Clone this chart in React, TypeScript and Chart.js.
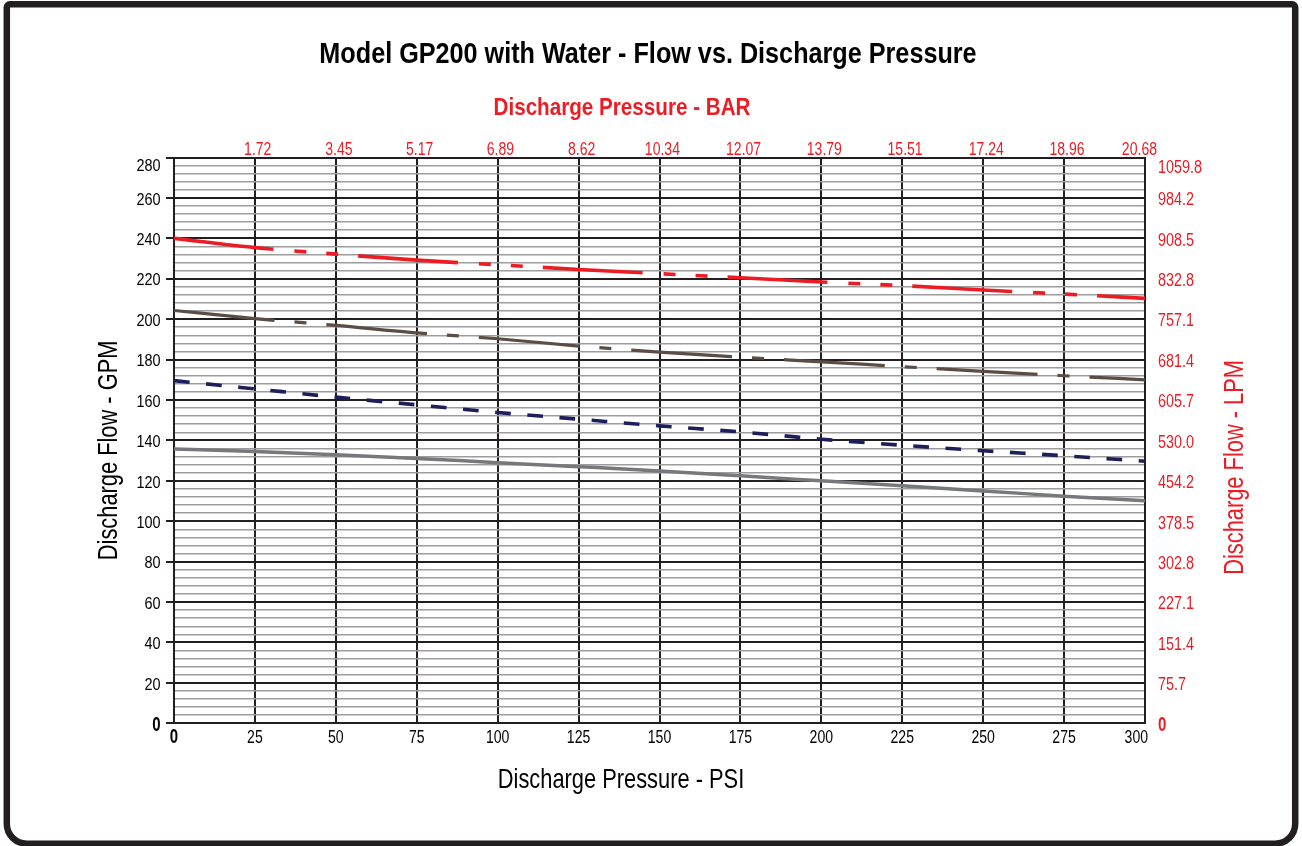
import React, { useEffect, useRef } from "react";
import { Chart, registerables } from "chart.js";

Chart.register(...registerables);

// ---------- data ----------
const PSI = [0, 25, 50, 75, 100, 125, 150, 175, 200, 225, 250, 275, 300];
const RED_GPM = [240, 235.4, 232.2, 229.2, 226.9, 224.6, 222.5, 220.5, 218.4, 216.6, 214.4, 212.4, 210.3];
const BROWN_GPM = [204.3, 200.3, 196.9, 193.2, 190.3, 186.7, 183.7, 181.2, 178.9, 176.5, 174.2, 172, 170];
const NAVY_GPM = [169.6, 165.5, 161.4, 157.6, 153.8, 150.5, 147.2, 144.2, 140.6, 137.6, 134.9, 132.4, 129.7];
const GREY_GPM = [135.8, 134.5, 132.9, 131.1, 129, 127, 124.9, 122.5, 120, 117.5, 115, 112.4, 110.1];

const PSI_TICKS = ["0", "25", "50", "75", "100", "125", "150", "175", "200", "225", "250", "275", "300"];
const GPM_TICKS = ["0", "20", "40", "60", "80", "100", "120", "140", "160", "180", "200", "220", "240", "260", "280"];
const BAR_TICKS = ["1.72", "3.45", "5.17", "6.89", "8.62", "10.34", "12.07", "13.79", "15.51", "17.24", "18.96", "20.68"];
const LPM_TICKS = ["0", "75.7", "151.4", "227.1", "302.8", "378.5", "454.2", "530.0", "605.7", "681.4", "757.1", "832.8", "908.5", "984.2", "1059.8"];

const TITLE = "Model GP200 with Water - Flow vs. Discharge Pressure";
const TOP_TITLE = "Discharge Pressure - BAR";
const BOTTOM_TITLE = "Discharge Pressure - PSI";
const LEFT_TITLE = "Discharge Flow - GPM";
const RIGHT_TITLE = "Discharge Flow - LPM";

const PSI_MAX = 300;
const GPM_MAX = 280;
const BAR_PER_PSI = 1 / 14.5038;
const LPM_PER_GPM = 3.78541;

// ---------- styles ----------
const FONT = '"Liberation Sans", Arial, Helvetica, sans-serif';
const RED = "#ed1c24";
const INK = "#231f20";

type TextOpts = {
  size: number;
  bold?: boolean;
  color?: string;
  align?: CanvasTextAlign;
  baseline?: CanvasTextBaseline;
  sx?: number;
  rotate?: number;
};

function drawText(ctx: CanvasRenderingContext2D, text: string, x: number, y: number, o: TextOpts) {
  ctx.save();
  ctx.translate(x, y);
  if (o.rotate) ctx.rotate(o.rotate);
  ctx.scale(o.sx ?? 0.8, 1);
  ctx.font = `${o.bold ? "bold " : ""}${o.size}px ${FONT}`;
  ctx.fillStyle = o.color ?? "#000";
  ctx.textAlign = o.align ?? "center";
  ctx.textBaseline = o.baseline ?? "alphabetic";
  ctx.fillText(text, 0, 0);
  ctx.restore();
}

function textWidth(ctx: CanvasRenderingContext2D, text: string, size: number, bold: boolean, sx: number) {
  ctx.save();
  ctx.font = `${bold ? "bold " : ""}${size}px ${FONT}`;
  const w = ctx.measureText(text).width * sx;
  ctx.restore();
  return w;
}

const decorPlugin = {
  id: "decor",
  beforeDraw(chart: any) {
    const ctx: CanvasRenderingContext2D = chart.ctx;
    ctx.save();
    ctx.fillStyle = "#fff";
    ctx.fillRect(0, 0, chart.width, chart.height);
    ctx.restore();
  },
  afterDraw(chart: any) {
    const ctx: CanvasRenderingContext2D = chart.ctx;
    const { x, y, x2, y2 } = chart.scales;
    const area = chart.chartArea;

    // frame
    ctx.save();
    ctx.strokeStyle = INK;
    ctx.lineWidth = 6.5;
    ctx.beginPath();
    (ctx as any).roundRect(6.8, 4.3, chart.width - 13.6, chart.height - 6.6, [3, 3, 20, 20]);
    ctx.stroke();
    ctx.restore();

    // titles
    drawText(ctx, TITLE, 648, 63, { size: 30, bold: true, sx: 0.84 });
    drawText(ctx, TOP_TITLE, 622, 115, { size: 24, bold: true, sx: 0.86, color: RED });
    drawText(ctx, BOTTOM_TITLE, 621, 788, { size: 28, sx: 0.78 });
    drawText(ctx, LEFT_TITLE, 116.5, (area.top + area.bottom) / 2 + 10, { size: 28, sx: 0.78, rotate: -Math.PI / 2 });
    drawText(ctx, RIGHT_TITLE, 1243.3, (area.top + area.bottom) / 2 + 27, {
      size: 28,
      sx: 0.78,
      rotate: -Math.PI / 2,
      color: RED,
    });

    // bottom ticks (psi)
    PSI_TICKS.forEach((t) => {
      const isZero = t === "0";
      const size = isZero ? 20 : 18;
      const sx = isZero ? 0.75 : 0.78;
      const w = textWidth(ctx, t, size, isZero, sx);
      let cx = x.getPixelForValue(parseFloat(t));
      if (cx + w / 2 > area.right + 3) cx = area.right + 3 - w / 2;
      drawText(ctx, t, cx, 743, { size, bold: isZero, sx });
    });

    // top ticks (bar)
    BAR_TICKS.forEach((t) => {
      const size = 18;
      const sx = 0.78;
      const w = textWidth(ctx, t, size, false, sx);
      let cx = x2.getPixelForValue(parseFloat(t)) + 3;
      if (cx + w / 2 > area.right + 12) cx = area.right + 12 - w / 2;
      drawText(ctx, t, cx, 155, { size, sx, color: RED });
    });

    // left ticks (gpm)
    GPM_TICKS.forEach((t) => {
      const isZero = t === "0";
      let cy = y.getPixelForValue(parseFloat(t)) + 2;
      if (cy < area.top + 9) cy = area.top + 9;
      drawText(ctx, t, 160.5, cy, {
        size: isZero ? 20 : 17,
        bold: isZero,
        sx: isZero ? 0.75 : 0.85,
        align: "right",
        baseline: "middle",
      });
    });

    // right ticks (lpm)
    LPM_TICKS.forEach((t) => {
      const isZero = t === "0";
      let cy = y2.getPixelForValue(parseFloat(t)) + 2.3;
      if (cy < area.top + 10.5) cy = area.top + 10.5;
      drawText(ctx, t, 1158, cy, {
        size: isZero ? 20 : 18,
        bold: isZero,
        sx: isZero ? 0.75 : 0.8,
        align: "left",
        baseline: "middle",
        color: RED,
      });
    });
  },
};

function series(values: number[]) {
  return PSI.map((p, i) => ({ x: p, y: values[i] }));
}

export default function App() {
  const ref = useRef<HTMLCanvasElement | null>(null);

  useEffect(() => {
    document.body.style.margin = "0";
    const canvas = ref.current;
    if (!canvas) return;

    const chart = new Chart(canvas, {
      type: "line",
      data: {
        datasets: [
          {
            data: series(GREY_GPM),
            borderColor: "#77787b",
            borderWidth: 3.5,
            pointRadius: 0,
            cubicInterpolationMode: "monotone",
          },
          {
            data: series(NAVY_GPM),
            borderColor: "#1d1f5c",
            borderWidth: 3.6,
            borderDash: [15.7, 16.57],
            pointRadius: 0,
            cubicInterpolationMode: "monotone",
          },
          {
            data: series(BROWN_GPM),
            borderColor: "#5b4c44",
            borderWidth: 3.2,
            borderDash: [101, 20, 12, 20],
            pointRadius: 0,
            cubicInterpolationMode: "monotone",
          },
          {
            data: series(RED_GPM),
            borderColor: RED,
            borderWidth: 3.6,
            borderDash: [100, 21, 12, 20, 12, 20],
            pointRadius: 0,
            cubicInterpolationMode: "monotone",
          },
        ] as any,
      },
      options: {
        animation: false,
        responsive: false,
        devicePixelRatio: 1,
        events: [],
        layout: { padding: 0 },
        plugins: { legend: { display: false }, tooltip: { enabled: false }, title: { display: false } },
        scales: {
          x: {
            type: "linear",
            position: "bottom",
            min: 0,
            max: PSI_MAX,
            ticks: { display: false, stepSize: 25 },
            grid: { color: INK, lineWidth: 2, drawTicks: false },
            border: { display: true, color: INK, width: 2 },
            afterFit: (s: any) => {
              s.height = 122.7;
            },
          },
          x2: {
            type: "linear",
            position: "top",
            min: 0,
            max: PSI_MAX * BAR_PER_PSI,
            ticks: { display: false },
            grid: { display: false },
            border: { display: true, color: INK, width: 2 },
            afterFit: (s: any) => {
              s.height = 157.5;
            },
          },
          y: {
            type: "linear",
            position: "left",
            min: 0,
            max: GPM_MAX,
            ticks: { display: false, stepSize: 4 },
            grid: {
              color: (c: any) => (c.tick && c.tick.value % 20 === 0 ? INK : "#9c9c9c"),
              lineWidth: (c: any) => (c.tick && c.tick.value % 20 === 0 ? 2 : 1.6),
              tickColor: (c: any) => (c.tick && c.tick.value % 20 === 0 ? INK : "rgba(0,0,0,0)"),
              tickLength: 8,
              tickWidth: 2,
              drawTicks: true,
            },
            border: { display: true, color: INK, width: 2 },
            afterFit: (s: any) => {
              s.width = 174;
            },
          },
          y2: {
            type: "linear",
            position: "right",
            min: 0,
            max: GPM_MAX * LPM_PER_GPM,
            ticks: { display: false },
            grid: { display: false },
            border: { display: true, color: INK, width: 2 },
            afterFit: (s: any) => {
              s.width = 157;
            },
          },
        },
      } as any,
      plugins: [decorPlugin],
    });

    return () => chart.destroy();
  }, []);

  return (
    <div style={{ width: 1302, height: 846, position: "relative" }}>
      <canvas ref={ref} width={1302} height={846} style={{ display: "block", width: 1302, height: 846 }} />
    </div>
  );
}
